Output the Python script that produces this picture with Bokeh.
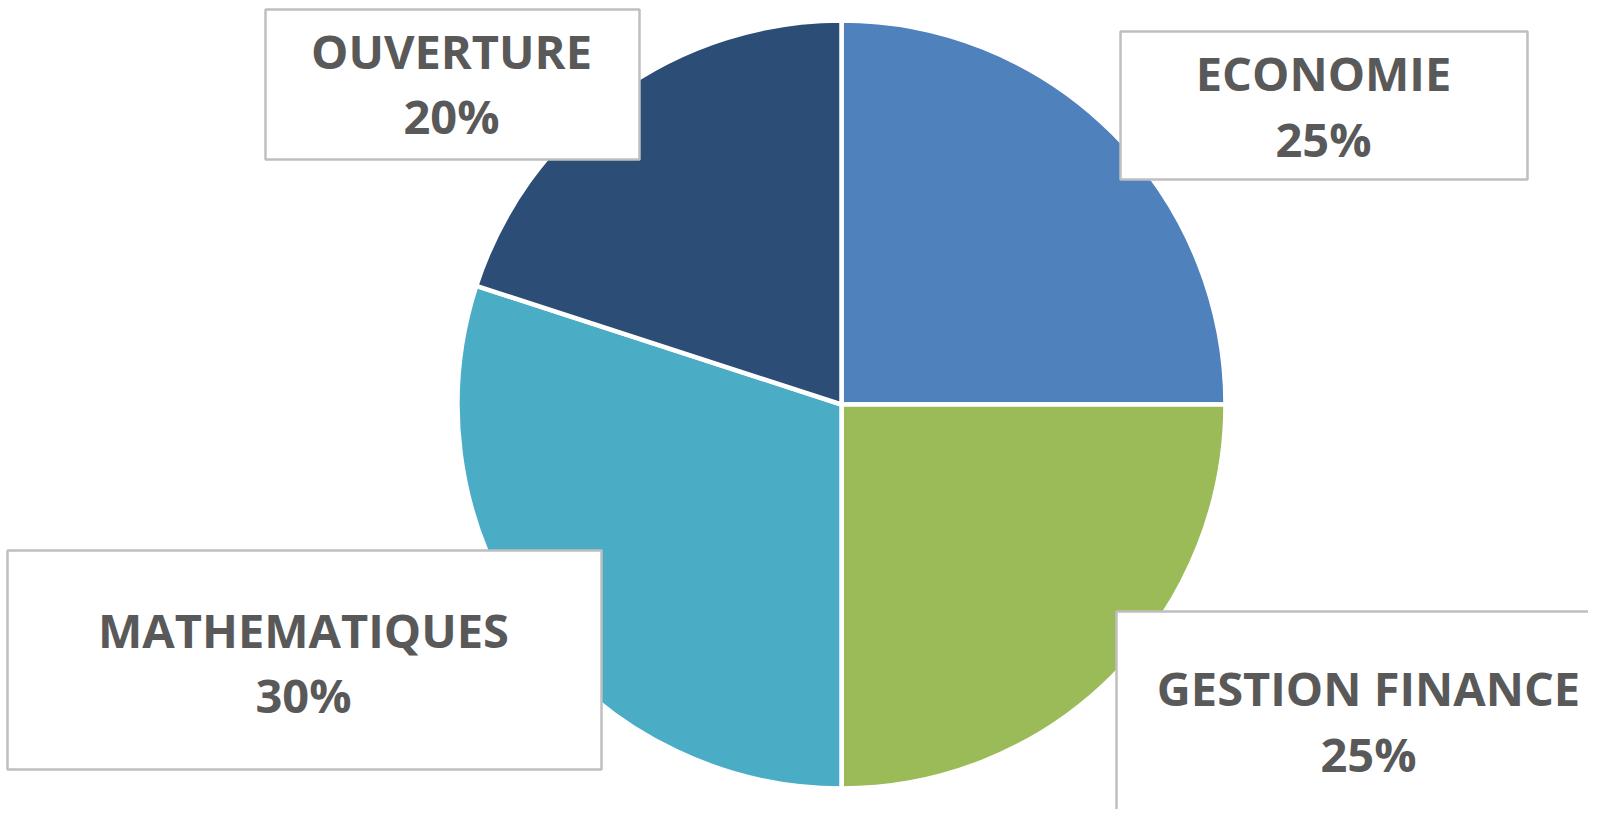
import numpy as np
from bokeh.plotting import figure
from bokeh.models import Range1d
from bokeh.core.properties import value
from bokeh.embed import file_html
from bokeh.resources import INLINE

# ---- data ----
categories = ["ECONOMIE", "GESTION FINANCE", "MATHEMATIQUES", "OUVERTURE"]
shares = [25, 25, 30, 20]
colors = ["#4F81BD", "#9BBB59", "#4BACC6", "#2C4D75"]
pct_labels = [f"{v}%" for v in shares]

# ---- layout (screen pixel coords of the 1604x825 page; y measured from top) ----
W, H = 1604, 825
M = 8
cx, cy, r = 841, 404, 384

# label boxes: left, right, top, bottom (screen px)
boxes = {
    "ECONOMIE": (1120, 1527, 31, 179),
    "GESTION FINANCE": (1116, 1640, 611, 860),
    "MATHEMATIQUES": (7, 601, 550, 769),
    "OUVERTURE": (265, 639, 9, 159),
}
# text centre x and cap baselines (screen px)
text_pos = {
    "ECONOMIE": (1323, 90, 156),
    "GESTION FINANCE": (1368, 705, 771),
    "MATHEMATIQUES": (303, 647, 712),
    "OUVERTURE": (451, 68, 133),
}
BASE_FIX = 18  # renderer baseline correction

def fy(y):
    return H - y

p = figure(width=W - 2 * M, height=H - 2 * M, output_backend="svg",
           toolbar_location=None, x_range=Range1d(0, W - 2 * M),
           y_range=Range1d(2 * M, H), min_border=0)
p.axis.visible = False
p.grid.visible = False
p.outline_line_color = None
p.background_fill_color = "white"
p.border_fill_color = "white"

total = float(sum(shares))
cum = np.concatenate([[0], np.cumsum(shares)]) / total
starts = np.pi / 2 - 2 * np.pi * cum[:-1]
ends = np.pi / 2 - 2 * np.pi * cum[1:]

p.wedge(x=[cx] * len(shares), y=[fy(cy)] * len(shares), radius=r,
        start_angle=list(starts), end_angle=list(ends), direction="clock",
        fill_color=colors, line_color="white", line_width=4.5)

lefts, rights, tops, bottoms = [], [], [], []
for c in categories:
    l, rr, t, b = boxes[c]
    lefts.append(l); rights.append(rr); tops.append(fy(t)); bottoms.append(fy(b))
p.quad(left=lefts, right=rights, top=tops, bottom=bottoms,
       fill_color="white", line_color="#BFBFBF", line_width=2.5)

xs, ys1, ys2 = [], [], []
for c in categories:
    x, b1, b2 = text_pos[c]
    xs.append(x); ys1.append(fy(b1 - BASE_FIX)); ys2.append(fy(b2 - BASE_FIX))

common = dict(text_align="center", text_baseline="alphabetic",
              text_font=value("Open Sans"), text_font_style="bold",
              text_font_size="47px", text_color="#595959")
p.text(x=xs, y=ys1, text=categories, **common)
p.text(x=xs, y=ys2, text=pct_labels, **common)

open("out.html", "w").write(file_html(p, INLINE))
